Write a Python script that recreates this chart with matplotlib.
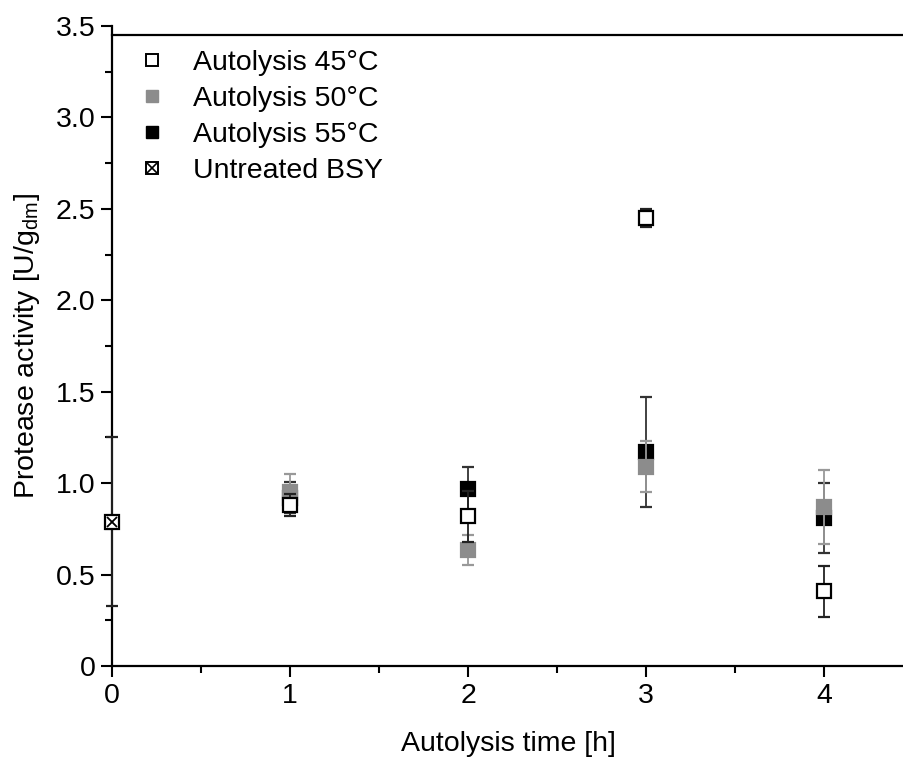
import numpy as np
import matplotlib
matplotlib.use("Agg")
import matplotlib.pyplot as plt
from matplotlib.legend_handler import HandlerTuple
from matplotlib.lines import Line2D

plt.rcParams["font.family"] = ["Liberation Sans", "DejaVu Sans"]

time_h = [1, 2, 3, 4]
act_45 = [0.88, 0.82, 2.45, 0.41]
err_45 = [0.06, 0.14, 0.05, 0.14]
act_50 = [0.95, 0.635, 1.09, 0.87]
err_50 = [0.10, 0.08, 0.14, 0.20]
act_55 = [0.92, 0.97, 1.17, 0.81]
err_55 = [0.085, 0.12, 0.30, 0.19]
untreated_t = [0]
untreated_act = [0.79]
untreated_err = [0.46]

fs = 20.5

fig = plt.figure(figsize=(9.04, 7.63), dpi=100)
ax = fig.add_axes([0.124, 0.127, 0.876, 0.839])

ms = 10
mew = 1.6
ebk = dict(capsize=4.5, capthick=1.3, elinewidth=1.3, linestyle="none")

ax.errorbar(untreated_t, untreated_act, yerr=untreated_err, ecolor="#222222",
            marker="s", ms=ms, mfc="white", mec="black", mew=mew, zorder=3, clip_on=False, **ebk)
ax.plot(untreated_t, untreated_act, marker="x", ms=7, mec="black", mew=1.3,
        linestyle="none", zorder=4, clip_on=False)

ax.errorbar(time_h, act_55, yerr=err_55, ecolor="#333333", marker="s", ms=ms,
            mfc="black", mec="black", mew=mew, zorder=3, **ebk)
ax.errorbar(time_h, act_50, yerr=err_50, ecolor="#999999", marker="s", ms=ms,
            mfc="#8c8c8c", mec="#8c8c8c", mew=mew, zorder=4, **ebk)
ax.errorbar(time_h, act_45, yerr=err_45, ecolor="#222222", marker="s", ms=ms,
            mfc="white", mec="black", mew=mew, zorder=5, **ebk)

ax.set_xlim(0, 4.45)
ax.set_ylim(0, 3.5)
ax.set_xticks([0, 1, 2, 3, 4])
ax.set_xticks([0.5, 1.5, 2.5, 3.5], minor=True)
ax.set_yticks([0, 0.5, 1.0, 1.5, 2.0, 2.5, 3.0, 3.5])
ax.set_yticklabels(["0", "0.5", "1.0", "1.5", "2.0", "2.5", "3.0", "3.5"])
ax.set_yticks(np.arange(0.25, 3.5, 0.5), minor=True)
ax.tick_params(which="major", direction="out", length=8, width=1.5, labelsize=fs, pad=4)
ax.tick_params(which="minor", direction="out", length=5, width=1.5)

ax.spines["right"].set_visible(False)
ax.spines["top"].set_position(("data", 3.45))
for s in ["left", "bottom", "top"]:
    ax.spines[s].set_linewidth(1.6)

ax.set_xlabel("Autolysis time [h]", fontsize=fs, labelpad=16)
ax.set_ylabel("Protease activity [U/g$_\\mathregular{dm}$]", fontsize=fs, labelpad=10)

h45 = Line2D([], [], marker="s", ms=9, mfc="white", mec="black", mew=1.4, ls="none")
h50 = Line2D([], [], marker="s", ms=9, mfc="#8c8c8c", mec="#8c8c8c", ls="none")
h55 = Line2D([], [], marker="s", ms=9, mfc="black", mec="black", ls="none")
hbsy_s = Line2D([], [], marker="s", ms=9, mfc="white", mec="black", mew=1.4, ls="none")
hbsy_x = Line2D([], [], marker="x", ms=6.5, mec="black", mew=1.2, ls="none")
ax.legend([h45, h50, h55, (hbsy_s, hbsy_x)],
          ["Autolysis 45°C", "Autolysis 50°C", "Autolysis 55°C", "Untreated BSY"],
          handler_map={tuple: HandlerTuple(ndivide=1, pad=0)},
          loc="upper left", bbox_to_anchor=(0.0, 1.003), frameon=False, fontsize=fs,
          handlelength=1.0, handletextpad=0.95, labelspacing=0.36)

fig.savefig("out.png", dpi=100)
